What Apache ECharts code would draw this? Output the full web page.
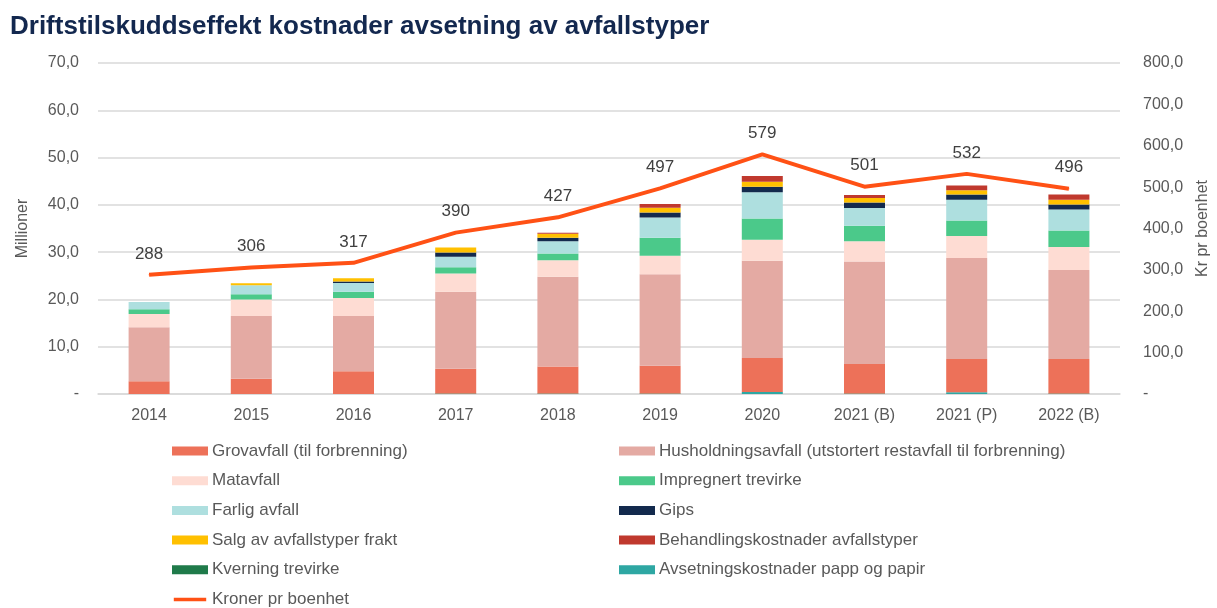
<!DOCTYPE html>
<html>
<head>
<meta charset="utf-8">
<script src="https://cdn.jsdelivr.net/npm/echarts@6/dist/echarts.min.js"></script>
<style>
  html, body { margin: 0; padding: 0; background: #fff; }
  #chart { width: 1217px; height: 608px; }
</style>
</head>
<body>
<div id="chart"></div>
<script>
// kategorier og verdier (millioner kr), lest fra figuren
var years = ['2014', '2015', '2016', '2017', '2018', '2019', '2020', '2021 (B)', '2021 (P)', '2022 (B)'];

var avsetning  = [0, 0, 0, 0, 0, 0, 0.4, 0, 0.35, 0];
var kverning   = [0, 0, 0, 0.1, 0.1, 0.1, 0, 0.1, 0, 0.1];
var grov       = [2.7, 3.25, 4.8, 5.25, 5.7, 5.9, 7.2, 6.25, 7.05, 7.3];
var husholdning= [11.4, 13.25, 11.7, 16.25, 19.0, 19.3, 20.6, 21.65, 21.35, 18.8];
var matavfall  = [2.8, 3.5, 3.8, 3.9, 3.5, 3.95, 4.4, 4.3, 4.65, 4.9];
var impregnert = [1.0, 1.1, 1.3, 1.3, 1.4, 3.8, 4.5, 3.3, 3.3, 3.5];
var farlig     = [1.55, 1.9, 1.9, 2.2, 2.6, 4.25, 5.55, 3.75, 4.4, 4.4];
var gips       = [0, 0, 0.3, 0.9, 0.75, 1.1, 1.2, 1.15, 1.1, 1.1];
var salg       = [0, 0.4, 0.7, 1.1, 0.85, 1.0, 1.05, 0.95, 0.9, 1.0];
var behandling = [0, 0, 0, 0, 0.2, 0.8, 1.2, 0.65, 1.0, 1.1];

var kronerPrBoenhet = [288, 306, 317, 390, 427, 497, 579, 501, 532, 496];

var leftTicks = ['-', '10,0', '20,0', '30,0', '40,0', '50,0', '60,0', '70,0'];
var rightTicks = ['-', '100,0', '200,0', '300,0', '400,0', '500,0', '600,0', '700,0', '800,0'];

var chart = echarts.init(document.getElementById('chart'));

function bar(name, data, color) {
    return {
        name: name,
        type: 'bar',
        stack: 'total',
        barWidth: 41,
        data: data,
        itemStyle: { color: color },
        emphasis: { disabled: true }
    };
}

var textCol = '#595959';
var font = 'Liberation Sans';
// strek-ikon for linjeserien i legenden (M-punktene holder boksen 36x10)
var lineIcon = 'path://M0,0 M36,10 M0,3 L36,3 L36,7 L0,7 Z';

var legendBase = {
    orient: 'vertical',
    top: 436,
    icon: 'rect',
    itemWidth: 36,
    itemHeight: 9,
    itemGap: 9.7,
    height: 200,
    textStyle: { color: textCol, fontSize: 17, fontFamily: font, padding: [0, 0, 0, -1], height: 20, lineHeight: 20 }
};

var option = {
    backgroundColor: '#fff',
    animation: false,
    title: {
        text: 'Driftstilskuddseffekt kostnader avsetning av avfallstyper',
        left: 5,
        top: 9,
        textStyle: { color: '#13284f', fontSize: 26, fontWeight: 'bold', fontFamily: font }
    },
    grid: { left: 98, right: 97, top: 63, bottom: 214, containLabel: false, outerBoundsMode: 'none' },
    legend: [Object.assign({}, legendBase, {
        left: 167,
        data: ['Grovavfall (til forbrenning)', 'Matavfall', 'Farlig avfall', 'Salg av avfallstyper frakt',
               'Kverning trevirke', { name: 'Kroner pr boenhet', icon: lineIcon }]
    }), Object.assign({}, legendBase, {
        left: 614,
        data: ['Husholdningsavfall (utstortert restavfall til forbrenning)', 'Impregnert trevirke', 'Gips',
               'Behandlingskostnader avfallstyper', 'Avsetningskostnader papp og papir']
    })],
    xAxis: {
        type: 'category',
        data: years,
        axisTick: { show: false },
        axisLine: { lineStyle: { color: '#d9d9d9', width: 1.5 } },
        axisLabel: { color: textCol, fontSize: 16, fontFamily: font, margin: 14 }
    },
    yAxis: [{
        type: 'value',
        min: 0,
        max: 70,
        interval: 10,
        name: 'Millioner',
        nameLocation: 'middle',
        nameRotate: 90,
        nameGap: 67,
        nameTextStyle: { color: textCol, fontSize: 16, fontFamily: font },
        axisLabel: {
            color: textCol, fontSize: 16, fontFamily: font, margin: 19,
            formatter: function (v) { return leftTicks[Math.round(v / 10)]; }
        },
        splitLine: { lineStyle: { color: '#d9d9d9', width: 1.5 } }
    }, {
        type: 'value',
        min: 0,
        max: 800,
        interval: 100,
        name: 'Kr pr boenhet',
        nameLocation: 'middle',
        nameRotate: 90,
        nameGap: 75,
        nameTextStyle: { color: textCol, fontSize: 16, fontFamily: font },
        axisLabel: {
            color: textCol, fontSize: 16, fontFamily: font, margin: 23,
            formatter: function (v) { return rightTicks[Math.round(v / 100)]; }
        },
        splitLine: { show: false }
    }],
    series: [
        bar('Avsetningskostnader papp og papir', avsetning, '#2ea7a3'),
        bar('Kverning trevirke', kverning, '#1f7a4a'),
        bar('Grovavfall (til forbrenning)', grov, '#ed7159'),
        bar('Husholdningsavfall (utstortert restavfall til forbrenning)', husholdning, '#e4aaa3'),
        bar('Matavfall', matavfall, '#fedcd3'),
        bar('Impregnert trevirke', impregnert, '#4bc98a'),
        bar('Farlig avfall', farlig, '#aedfdf'),
        bar('Gips', gips, '#132a4d'),
        bar('Salg av avfallstyper frakt', salg, '#ffc000'),
        bar('Behandlingskostnader avfallstyper', behandling, '#c0392e'),
        {
            name: 'Kroner pr boenhet',
            type: 'line',
            yAxisIndex: 1,
            data: kronerPrBoenhet,
            symbol: 'circle',
            symbolSize: 1,
            showSymbol: true,
            lineStyle: { color: '#ff5115', width: 4 },
            itemStyle: { color: '#ff5115' },
            label: {
                show: true,
                position: 'top',
                distance: 12,
                color: '#404040',
                fontSize: 17,
                fontFamily: font
            },
            z: 5
        }
    ]
};

chart.setOption(option);
</script>
</body>
</html>
